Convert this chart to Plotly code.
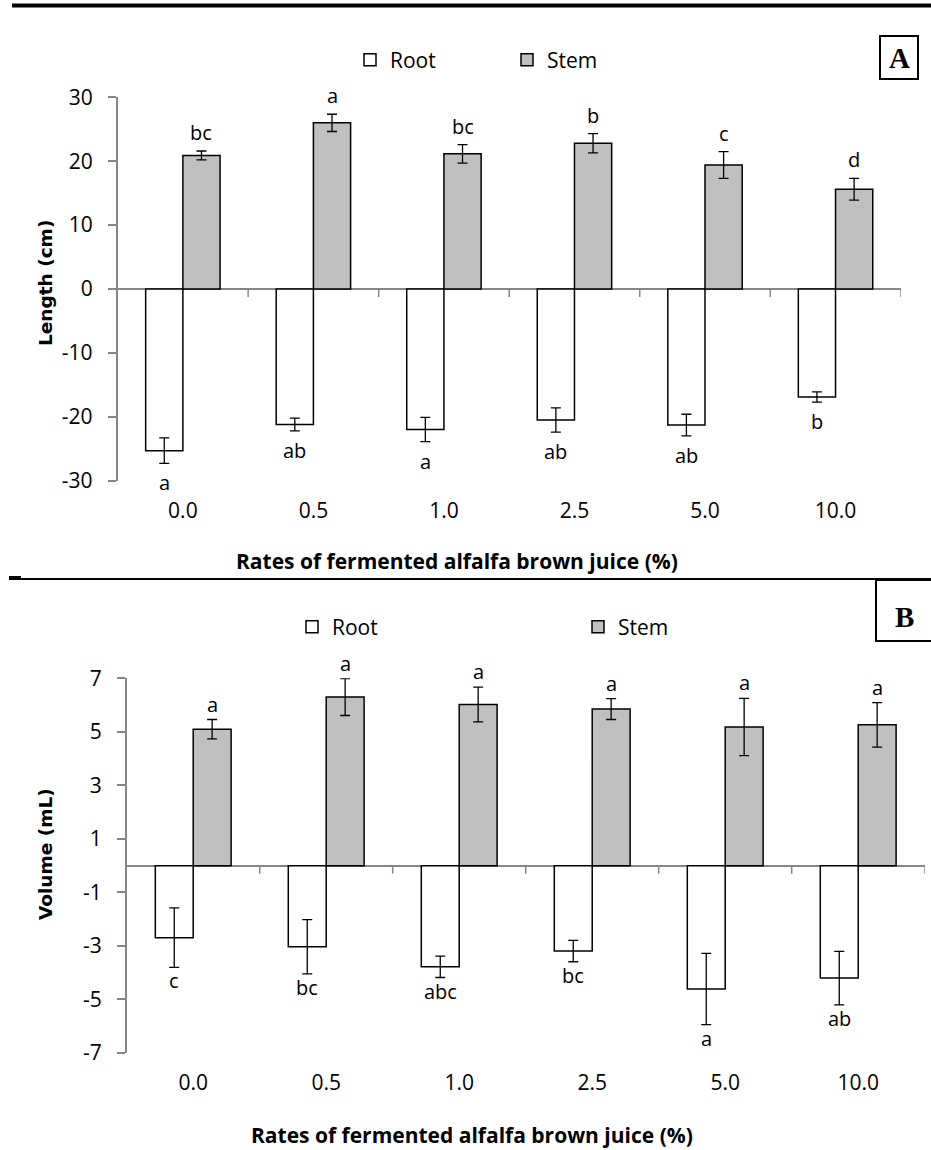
import plotly.graph_objects as go

# ---------------- data ----------------
categories = ["0.0", "0.5", "1.0", "2.5", "5.0", "10.0"]

# Panel A: Length (cm)
len_root = [-25.3, -21.2, -22.0, -20.5, -21.3, -16.9]
len_root_err = [2.0, 1.0, 1.9, 1.9, 1.7, 0.8]
len_stem = [20.9, 26.0, 21.15, 22.8, 19.4, 15.6]
len_stem_err = [0.7, 1.35, 1.45, 1.5, 2.1, 1.7]
len_root_letters = ["a", "ab", "a", "ab", "ab", "b"]
len_stem_letters = ["bc", "a", "bc", "b", "c", "d"]
len_ticks = [30, 20, 10, 0, -10, -20, -30]
len_ticktext = ["30", "20", "10", "0", "-10", "-20", "-30"]

# Panel B: Volume (mL)
vol_root = [-2.69, -3.03, -3.78, -3.19, -4.61, -4.20]
vol_root_err = [1.11, 1.01, 0.40, 0.40, 1.33, 1.00]
vol_stem = [5.10, 6.30, 6.02, 5.85, 5.18, 5.26]
vol_stem_err = [0.36, 0.69, 0.65, 0.39, 1.07, 0.83]
vol_root_letters = ["c", "bc", "abc", "bc", "a", "ab"]
vol_stem_letters = ["a", "a", "a", "a", "a", "a"]
vol_ticks = [7, 5, 3, 1, -1, -3, -5, -7]
vol_ticktext = ["7", "5", "3", "1", "-1", "-3", "-5", "-7"]

x_title = "Rates of fermented alfalfa brown juice (%)"

# ---------------- helpers ----------------
W, H = 931, 1150


def X(px):
    return px / W


def Y(py):
    return 1 - py / H


AXIS_GRAY = "#868686"
STEM_FILL = "#C0C0C0"
FONT = "Open Sans"
BARGAP = 0.43

fig = go.Figure()


def add_bars(root, root_err, stem, stem_err, xa, ya, lg_root, lg_stem):
    fig.add_trace(go.Bar(
        x=categories, y=root, name="Root", xaxis=xa, yaxis=ya, legend=lg_root,
        marker=dict(color="white", line=dict(color="black", width=1.5)),
        error_y=dict(type="data", array=root_err, color="black", thickness=1.3, width=5),
    ))
    fig.add_trace(go.Bar(
        x=categories, y=stem, name="Stem", xaxis=xa, yaxis=ya, legend=lg_stem,
        marker=dict(color=STEM_FILL, line=dict(color="black", width=1.5)),
        error_y=dict(type="data", array=stem_err, color="black", thickness=1.3, width=5),
    ))


add_bars(len_root, len_root_err, len_stem, len_stem_err, "x", "y", "legend", "legend2")
add_bars(vol_root, vol_root_err, vol_stem, vol_stem_err, "x2", "y2", "legend3", "legend4")

annotations = []
off = (1 - BARGAP) / 4


def add_letters(root, root_err, stem, stem_err, rl, sl, xr, yr, sshift, rshift):
    for i in range(len(categories)):
        annotations.append(dict(
            x=i + off, y=stem[i] + stem_err[i], xref=xr, yref=yr, text=sl[i],
            showarrow=False, xanchor="center", yanchor="bottom", yshift=sshift,
            font=dict(family=FONT, size=20, color="black")))
        annotations.append(dict(
            x=i - off, y=root[i] - root_err[i], xref=xr, yref=yr, text=rl[i],
            showarrow=False, xanchor="center", yanchor="top", yshift=rshift,
            font=dict(family=FONT, size=20, color="black")))


add_letters(len_root, len_root_err, len_stem, len_stem_err,
            len_root_letters, len_stem_letters, "x", "y", 3, -4)
add_letters(vol_root, vol_root_err, vol_stem, vol_stem_err,
            vol_root_letters, vol_stem_letters, "x2", "y2", 0, 2)


def label(px, py, text, family, size, angle=0):
    return dict(x=X(px), y=Y(py), xref="paper", yref="paper", text=text,
                xanchor="center", yanchor="middle", textangle=angle, showarrow=False,
                font=dict(family=family, size=size, color="black"))


annotations += [
    label(457, 561, "<b>" + x_title + "</b>", FONT, 21),
    label(472, 1135, "<b>" + x_title + "</b>", FONT, 21),
    label(45, 283, "<b>Length (cm)</b>", "DejaVu Sans", 18.5, -90),
    label(45, 854, "<b>Volume (mL)</b>", "DejaVu Sans", 18.5, -90),
    label(899, 58, "<b>A</b>", "Liberation Serif", 29),
    label(904, 617, "<b>B</b>", "Liberation Serif", 29),
]

shapes = []
# category boundary tick marks on the zero line
for xa, ya in (("x", "y"), ("x2", "y2")):
    for i in range(len(categories)):
        shapes.append(dict(type="line", xref=xa, yref=ya, x0=i + 0.5, x1=i + 0.5,
                           ysizemode="pixel", yanchor=0, y0=0, y1=-8,
                           line=dict(color=AXIS_GRAY, width=1.5)))
# page rules and label boxes
shapes += [
    dict(type="line", xref="paper", yref="paper", x0=X(12), x1=X(931), y0=Y(5.5), y1=Y(5.5),
         line=dict(color="black", width=4)),
    dict(type="line", xref="paper", yref="paper", x0=X(9), x1=X(931), y0=Y(579), y1=Y(579),
         line=dict(color="black", width=2)),
    dict(type="line", xref="paper", yref="paper", x0=X(9), x1=X(21), y0=Y(577.5), y1=Y(577.5),
         line=dict(color="black", width=3)),
    dict(type="rect", xref="paper", yref="paper", x0=X(880), x1=X(918), y0=Y(36), y1=Y(79),
         line=dict(color="black", width=2)),
    dict(type="rect", xref="paper", yref="paper", x0=X(876), x1=X(940), y0=Y(580), y1=Y(641),
         line=dict(color="black", width=2)),
]

tickfont = dict(family=FONT, size=21, color="black")


def xaxis_cfg(x0, x1, anchor):
    return dict(domain=[X(x0), X(x1)], anchor=anchor, type="category",
                range=[-0.5, len(categories) - 0.5], showline=False, showgrid=False,
                zeroline=False, ticks="", tickfont=tickfont, ticklabelstandoff=15,
                fixedrange=True)


def yaxis_cfg(top, bottom, anchor, rng, tickvals, ticktext):
    return dict(domain=[Y(bottom), Y(top)], anchor=anchor, range=rng,
                tickmode="array", tickvals=tickvals, ticktext=ticktext,
                showline=True, linecolor=AXIS_GRAY, linewidth=1.5, ticks="outside", ticklen=8,
                tickcolor=AXIS_GRAY, tickwidth=1.5, showgrid=False, zeroline=True,
                zerolinecolor=AXIS_GRAY, zerolinewidth=1.5, tickfont=tickfont,
                ticklabelstandoff=11, fixedrange=True)


def legend_cfg(lx, cy):
    return dict(x=X(lx), xanchor="left", y=Y(cy), yanchor="middle", orientation="h",
                bgcolor="rgba(0,0,0,0)", borderwidth=0,
                font=dict(family=FONT, size=21, color="black"))


fig.update_layout(
    width=W, height=H, margin=dict(l=0, r=0, t=0, b=0, autoexpand=False),
    paper_bgcolor="white", plot_bgcolor="white",
    barmode="group", bargap=BARGAP, bargroupgap=0,
    xaxis=xaxis_cfg(117.6, 900.8, "y"),
    yaxis=yaxis_cfg(97.3, 480.7, "x", [-30, 30], len_ticks, len_ticktext),
    xaxis2=xaxis_cfg(126.7, 924.7, "y2"),
    yaxis2=yaxis_cfg(678.3, 1053.0, "x2", [-7, 7], vol_ticks, vol_ticktext),
    legend=legend_cfg(350, 60),
    legend2=legend_cfg(507, 60),
    legend3=legend_cfg(292, 627),
    legend4=legend_cfg(578, 627),
    annotations=annotations,
    shapes=shapes,
    showlegend=True,
)

fig.write_html("out.html")
